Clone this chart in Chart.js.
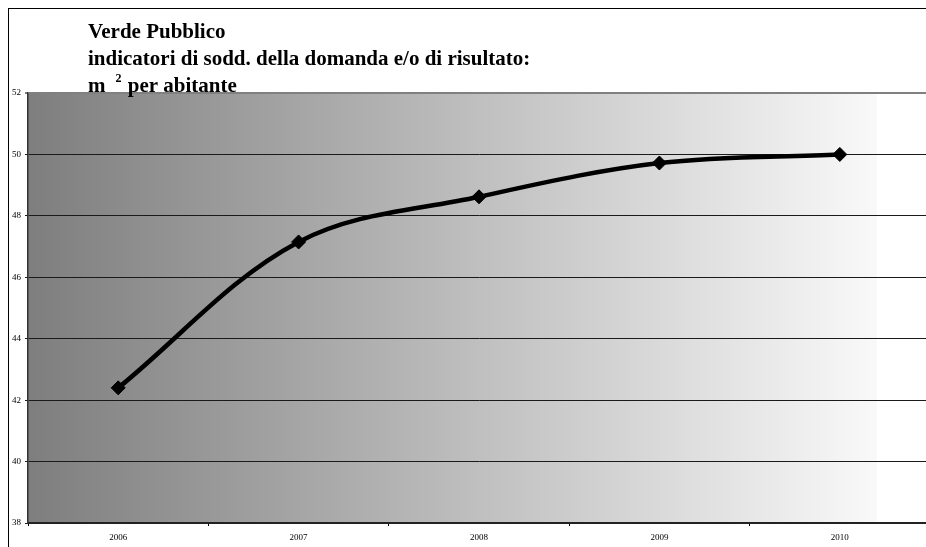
<!DOCTYPE html>
<html>
<head>
<meta charset="utf-8">
<script src="https://cdn.jsdelivr.net/npm/chart.js@4"></script>
<style>
  html, body { margin: 0; padding: 0; background: #fff; overflow: hidden; }
  canvas { display: block; }
</style>
</head>
<body>
<canvas id="grafica_verde" width="932" height="547"></canvas>
<script>
// dati
const anni = ["2006", "2007", "2008", "2009", "2010"];
const mqPerAbitante = [42.4, 47.15, 48.62, 49.72, 50.0];
const titolo = ["Verde Pubblico", "indicatori di sodd. della domanda e/o di risultato:"];

const SERIF = '"Liberation Serif", "Times New Roman", serif';

// sfondo, cornice e titolo
const sfondo = {
  id: "sfondo",
  beforeDraw(chart) {
    const { ctx, chartArea: a } = chart;
    ctx.save();
    ctx.fillStyle = "#fff";
    ctx.fillRect(0, 0, chart.width, chart.height);
    ctx.strokeStyle = "#000";
    ctx.lineWidth = 1;
    ctx.strokeRect(8.5, 8.5, 2000, 2000);
    const fine = a.left + (a.right - a.left) * 0.941;
    const g = ctx.createLinearGradient(a.left, 0, fine, 0);
    g.addColorStop(0, "#7e7e7e");
    g.addColorStop(1, "#f9f9f9");
    ctx.fillStyle = g;
    ctx.fillRect(a.left, a.top, fine - a.left, a.bottom - a.top);
    ctx.restore();
  },
  afterDraw(chart) {
    const ctx = chart.ctx;
    ctx.save();
    ctx.fillStyle = "#000";
    ctx.textBaseline = "alphabetic";
    ctx.font = "bold 21px " + SERIF;
    ctx.fillText(titolo[0], 88, 38);
    ctx.fillText(titolo[1], 88, 65);
    ctx.fillText("m", 88, 92);
    let x = 88 + ctx.measureText("m").width + 10;
    ctx.font = "bold 12px " + SERIF;
    ctx.fillText("2", x, 82);
    x += ctx.measureText("2").width + 1;
    ctx.font = "bold 21px " + SERIF;
    ctx.fillText(" per abitante", x, 92);
    ctx.restore();
  }
};

new Chart("grafica_verde", {
  type: "line",
  data: {
    labels: anni,
    datasets: [{
      data: mqPerAbitante,
      borderColor: "#000",
      borderWidth: 4.5,
      tension: 0.35,
      pointStyle: "rectRot",
      pointRadius: 7,
      pointBackgroundColor: "#000",
      pointBorderColor: "#000",
      pointBorderWidth: 1
    }]
  },
  options: {
    responsive: false,
    animation: false,
    layout: { autoPadding: false, padding: { top: 93, left: 0, right: 2, bottom: 0 } },
    plugins: {
      legend: { display: false },
      title: { display: false },
      tooltip: { enabled: false }
    },
    scales: {
      x: {
        offset: true,
        afterFit: (s) => { s.height = 24; s.paddingLeft = 0; s.paddingRight = 0; },
        grid: { offset: true, drawOnChartArea: false, drawTicks: true, tickLength: 3, color: "#000" },
        border: { display: true, color: "#222", width: 2 },
        ticks: { font: { family: SERIF, size: 9 }, color: "#000", padding: 6, maxRotation: 0 }
      },
      y: {
        min: 38,
        max: 52,
        afterFit: (s) => { s.width = 28; },
        grid: {
          color: (c) => (c.tick && c.tick.value === 52 ? "#808080" : "#1a1a1a"),
          lineWidth: (c) => (c.tick && c.tick.value === 52 ? 2 : 1),
          tickLength: 3
        },
        border: { display: true, color: "#333", width: 1.5 },
        ticks: { stepSize: 2, font: { family: SERIF, size: 9 }, color: "#000", padding: 4 }
      }
    }
  },
  plugins: [sfondo]
});
</script>
</body>
</html>
